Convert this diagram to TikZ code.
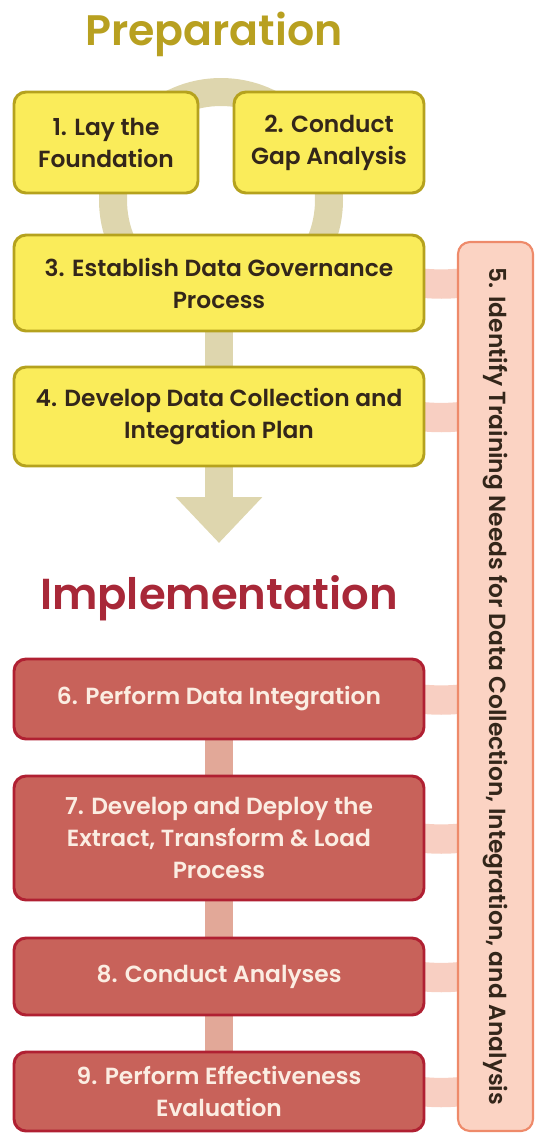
\documentclass[tikz,border=0pt]{standalone}
\usepackage{fontspec}
\setmainfont{Poppins}[BoldFont={Poppins SemiBold}]
\usetikzlibrary{arrows.meta,backgrounds}

\definecolor{prepfill}{HTML}{FAEC5A}
\definecolor{prepline}{HTML}{B5A21E}
\definecolor{preptitle}{HTML}{B8A020}
\definecolor{preplink}{HTML}{DED6AE}
\definecolor{implfill}{HTML}{C8625A}
\definecolor{implline}{HTML}{B02032}
\definecolor{impltitle}{HTML}{A82838}
\definecolor{impllink}{HTML}{E2A898}
\definecolor{implttext}{HTML}{FBEDE2}
\definecolor{trainfill}{HTML}{FBD3C3}
\definecolor{trainline}{HTML}{EE8A6A}
\definecolor{trainlink}{HTML}{F8CFC2}
\definecolor{darktext}{HTML}{33261A}

\tikzset{
    prepbox/.style={draw=prepline, fill=prepfill, line width=2.2pt, rounded corners=9pt,
        align=center, text=darktext, font=\fontsize{17.5}{24}\selectfont\bfseries, inner sep=0pt},
    implbox/.style={draw=implline, fill=implfill, line width=2.2pt, rounded corners=9pt,
        align=center, text=implttext, font=\fontsize{17.5}{24}\selectfont\bfseries, inner sep=0pt},
    preplk/.style={draw=preplink, line width=21pt},
    impllk/.style={draw=impllink, line width=21pt},
    sidelk/.style={draw=trainlink, line width=22pt},
}

\begin{document}
\begin{tikzpicture}[x=0.75pt, y=-0.75pt]

    \useasboundingbox (0, 0) rectangle (535, 1133);

    % ring behind steps 1 and 2
    \draw[preplink, line width=21pt] (221, 200) circle [radius=108];

    % titles
    \node[text=preptitle, font=\fontsize{32}{38}\selectfont\bfseries] (prep) at (214, 34) {Preparation};
    \node[text=impltitle, font=\fontsize{32.5}{38}\selectfont\bfseries] (impl) at (219, 598) {Implementation};

    % preparation
    \node[prepbox, minimum width=184*0.75pt, minimum height=101*0.75pt] (b1) at (106, 142.5) {1. Lay the\\Foundation};
    \node[prepbox, minimum width=190*0.75pt, minimum height=101*0.75pt] (b2) at (329, 142.5) {2. Conduct\\Gap Analysis};
    \node[prepbox, minimum width=410*0.75pt, minimum height=96*0.75pt] (b3) at (219, 283) {3. Establish Data Governance\\Process};
    \node[prepbox, minimum width=410*0.75pt, minimum height=99*0.75pt] (b4) at (219, 416.5) {4. Develop Data Collection and\\Integration Plan};
    \coordinate (tip) at (219, 543);

    % implementation
    \node[implbox, minimum width=410*0.75pt, minimum height=80*0.75pt] (b6) at (219, 699) {6. Perform Data Integration};
    \node[implbox, minimum width=410*0.75pt, minimum height=124*0.75pt] (b7) at (219, 838) {7. Develop and Deploy the\\Extract, Transform \& Load\\Process};
    \node[implbox, minimum width=410*0.75pt, minimum height=77*0.75pt] (b8) at (219, 976.5) {8. Conduct Analyses};
    \node[implbox, minimum width=410*0.75pt, minimum height=79*0.75pt] (b9) at (219, 1091.5) {9. Perform Effectiveness\\Evaluation};

    % training, side column
    \node[draw=trainline, fill=trainfill, line width=1.6pt, rounded corners=9pt, rotate=-90,
        minimum width=889*0.75pt, minimum height=75*0.75pt, inner sep=0pt, text=darktext,
        font=\fontsize{17.5}{21}\selectfont\bfseries] (b5) at (495.5, 686.5)
        {5. Identify Training Needs for Data Collection, Integration, and Analysis};

    \begin{scope}[on background layer]
        \draw[preplk] (b3) -- (b4);
        \draw[preplk, -{Triangle[width=63pt, length=34.5pt]}] (b4.south) -- (tip);
        \draw[impllk] (b6) -- (b7);
        \draw[impllk] (b7) -- (b8);
        \draw[impllk] (b8) -- (b9);
        \foreach \b in {b3, b4, b6, b7, b8, b9}
            \draw[sidelk] ([xshift=-4pt]\b.east) to[bend right=5] ([xshift=4pt]\b.east -| b5.south);
    \end{scope}

\end{tikzpicture}
\end{document}
